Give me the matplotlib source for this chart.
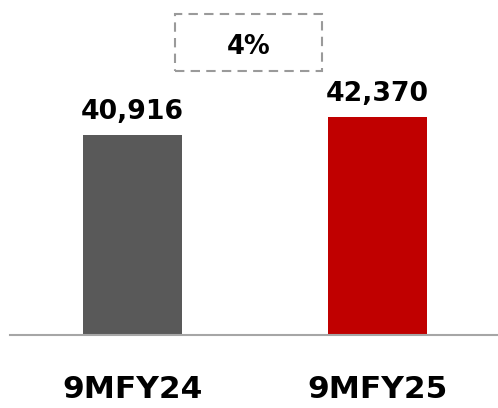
import matplotlib
matplotlib.use("Agg")
import matplotlib.pyplot as plt
from matplotlib.patches import Rectangle

# 데이터
categories = ["9MFY24", "9MFY25"]
values = [40916, 42370]
colors = ["#595959", "#C00000"]

growth = (values[1] / values[0] - 1) * 100  # 성장률

plt.rcParams["font.family"] = ["DejaVu Sans"]

fig = plt.figure(figsize=(4.98, 4.08), dpi=100)
ax = fig.add_axes([10 / 498, 1 - 335 / 408, 488 / 498, 335 / 408])

x = list(range(len(categories)))
ax.bar(x, values, width=0.404, color=colors)

# 막대 위 값 표시
for xi, v in zip(x, values):
    ax.annotate("{:,}".format(v), (xi, v), xytext=(0, 11.5), textcoords="offset points",
                ha="center", va="baseline", fontsize=19.2, fontweight="bold", color="black")

ax.set_ylim(24760, 51820)
ax.set_xlim(-0.5, 1.492)

ax.set_xticks(x)
ax.set_xticklabels(categories, fontsize=22.5, fontweight="bold")
ax.tick_params(axis="x", length=0, pad=29)
ax.set_yticks([])

for s in ["top", "right", "left"]:
    ax.spines[s].set_visible(False)
ax.spines["bottom"].set_color("#A6A6A6")
ax.spines["bottom"].set_linewidth(1.5)

# 성장률 박스 (점선)
box = Rectangle((175 / 498, 1 - 71 / 408), 147 / 498, 57 / 408,
                transform=fig.transFigure, fill=False, edgecolor="#9A9A9A",
                linestyle=(0, (4.5, 3)), linewidth=1.5)
fig.add_artist(box)
fig.text(248.5 / 498, 1 - 54 / 408, "{:.0f}%".format(growth), ha="center", va="baseline",
         fontsize=18.5, fontweight="bold")

fig.savefig("out.png", dpi=100)
